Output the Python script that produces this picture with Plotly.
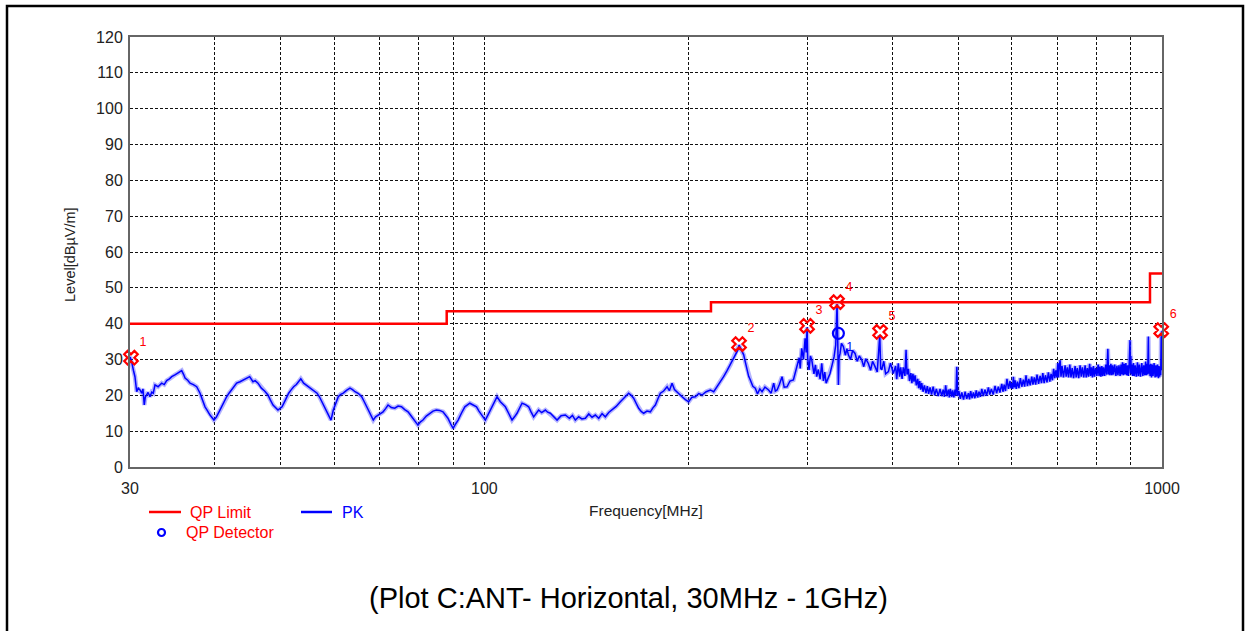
import plotly.graph_objects as go

# ---------------- data ----------------
limit_freq = [30, 88, 216, 960, 1000]
limit_level = [40, 43.5, 46, 54, 54]

pk_points = [
    (30.0, 30.8), (30.17, 29.4), (30.35, 27.0), (30.51, 25.2), (30.69, 21.0), (30.85, 22.0),
    (31.04, 21.5), (31.22, 20.6), (31.35, 21.8), (31.49, 17.3), (31.6, 19.5), (31.75, 20.4),
    (31.9, 20.8), (32.11, 19.6), (32.3, 20.9), (32.47, 20.6), (32.66, 22.9), (33.0, 22.4),
    (33.41, 23.4), (33.7, 23.0), (33.98, 24.1), (34.3, 24.6), (34.57, 25.2), (35.0, 25.8),
    (35.3, 26.2), (35.56, 26.6), (35.76, 26.9), (36.0, 25.8), (36.17, 24.8), (36.5, 24.2),
    (36.79, 23.4), (37.2, 23.0), (37.63, 22.4), (38.06, 20.6), (38.4, 18.5), (38.71, 16.8),
    (39.0, 15.8), (39.37, 14.5), (39.9, 13.1), (40.23, 13.9), (40.6, 15.4), (40.92, 16.8),
    (41.3, 18.0), (41.66, 19.6), (42.0, 20.6), (42.38, 21.5), (42.7, 22.4), (43.10, 23.4),
    (43.6, 23.8), (44.08, 24.3), (44.6, 24.6), (45.05, 25.2), (45.56, 23.8), (45.9, 24.1),
    (46.34, 23.4), (46.88, 22.0), (47.4, 21.2), (47.94, 20.1), (48.3, 18.8), (48.77, 17.3),
    (49.6, 15.9), (50.29, 16.8), (50.9, 18.8), (51.43, 20.6), (51.9, 21.6), (52.31, 22.4),
    (52.8, 23.0), (53.21, 23.8), (53.6, 24.6), (54.12, 23.4), (54.8, 22.6), (55.37, 22.0),
    (56.0, 21.4), (56.64, 20.6), (57.1, 19.6), (57.61, 18.2), (58.1, 16.8), (58.6, 15.4),
    (59.0, 14.0), (59.39, 13.1), (59.86, 15.9), (60.88, 19.6), (61.4, 20.3), (61.93, 20.6),
    (62.6, 21.4), (63.35, 22.0), (63.9, 21.6), (64.44, 21.0), (65.2, 20.5), (65.92, 19.6),
    (66.5, 18.2), (67.05, 16.8), (67.8, 15.0), (68.57, 13.1), (69.1, 14.0), (69.69, 14.5),
    (70.3, 15.0), (70.89, 15.4), (71.5, 16.3), (72.10, 17.3), (72.9, 16.6), (73.76, 16.4),
    (74.6, 17.0), (75.46, 16.8), (76.3, 16.0), (77.17, 15.4), (77.8, 14.5), (78.49, 13.6),
    (79.81, 11.7), (80.5, 12.6), (81.18, 13.1), (82.1, 14.2), (83.05, 15.0), (84.0, 15.6),
    (84.96, 15.9), (85.9, 15.8), (86.89, 15.4), (87.6, 14.6), (88.37, 13.6), (89.2, 12.0),
    (89.94, 10.8), (90.7, 12.0), (91.48, 13.1), (92.5, 15.0), (93.59, 16.8), (95.19, 17.8),
    (96.3, 17.4), (97.38, 16.8), (98.2, 15.6), (99.05, 14.5), (100.34, 13.1), (101.2, 14.5),
    (102.06, 15.9), (103.2, 17.8), (104.41, 19.6), (105.59, 18.2), (107.40, 16.8), (108.6, 15.0),
    (109.87, 13.1), (110.8, 14.0), (111.75, 15.0), (112.7, 16.4), (113.67, 17.8), (115.0, 17.4),
    (116.25, 16.8), (117.2, 15.4), (118.24, 14.0), (120.26, 15.9), (121.5, 15.2), (123.04, 15.9),
    (124.0, 15.3), (125.14, 15.0), (126.5, 14.0), (128.03, 13.1), (129.8, 14.3), (131.69, 14.5),
    (133.5, 13.6), (134.9, 14.4), (136.24, 13.1), (137.8, 14.0), (139.3, 13.4), (140.95, 13.6),
    (142.6, 14.8), (144.2, 13.9), (145.82, 14.5), (147.5, 13.6), (149.2, 14.9), (150.86, 14.0),
    (152.6, 15.2), (154.33, 15.9), (156.5, 16.9), (158.75, 18.2), (161.0, 19.4), (163.29, 20.6),
    (164.7, 20.0), (166.09, 19.2), (167.5, 17.8), (168.94, 16.4), (170.4, 15.5), (171.83, 15.0),
    (173.8, 15.6), (175.79, 15.4), (177.3, 16.5), (178.80, 17.3), (180.3, 19.0), (181.87, 20.6),
    (183.9, 21.2), (186.06, 22.4), (187.5, 21.3), (189.25, 23.4), (190.8, 21.6), (192.49, 21.0),
    (194.1, 20.2), (195.79, 19.6), (198.0, 18.8), (200.2, 18.2), (202.5, 19.5), (204.82, 19.6),
    (207.2, 20.5), (209.53, 20.1), (212.5, 21.0), (215.53, 21.5), (218.0, 21.0), (220.49, 22.4),
    (223.0, 23.5), (225.49, 25.2), (228.0, 26.8), (230.68, 28.5), (232.6, 30.0), (234.64, 31.3),
    (236.6, 32.6), (237.6, 34.0), (239.5, 32.5), (241.4, 31.3), (242.8, 29.2), (244.2, 27.1),
    (245.5, 25.3), (246.9, 24.3), (249.0, 22.5), (251.1, 22.0), (253.0, 20.4), (255.0, 21.8),
    (256.9, 21.0), (259.5, 22.3), (262.7, 21.5), (265.0, 20.6), (267.3, 23.4), (268.8, 21.2),
    (270.4, 21.5), (272.5, 23.0), (275.0, 25.2), (277.0, 22.3), (279.7, 22.4), (282.5, 24.0),
    (285.8, 24.3), (287.8, 26.5), (289.7, 28.9), (291.5, 30.5), (292.5, 27.5), (294.0, 33.1),
    (295.7, 30.0), (297.4, 35.9), (298.5, 32.0), (299.4, 39.0), (300.0, 30.5), (301.4, 27.1),
    (302.8, 31.0), (304.2, 29.9), (306.5, 26.0), (308.0, 28.5), (309.4, 25.2), (311.0, 27.2),
    (313.0, 24.5), (314.7, 28.9), (316.5, 24.0), (318.0, 26.5), (319.4, 23.4), (321.5, 25.0),
    (323.7, 26.1), (326.0, 28.5), (328.2, 30.8), (330.0, 34.0), (331.5, 45.5), (332.5, 32.0),
    (333.0, 22.9), (333.8, 30.5), (334.9, 31.7), (336.5, 34.5), (338.7, 33.6), (341.0, 31.2),
    (342.8, 33.0), (344.5, 31.3), (347.0, 30.0), (349.5, 32.5), (352.4, 31.7), (355.0, 29.5),
    (357.5, 31.0), (360.5, 29.9), (363.0, 28.0), (365.5, 30.2), (368.7, 28.9), (371.5, 27.0),
    (374.0, 29.5), (377.2, 28.0), (380.0, 26.5), (383.3, 36.8), (384.5, 27.5), (385.9, 27.1),
    (388.5, 29.5), (391.0, 26.0), (394.7, 26.6), (397.5, 29.0),
    (401.4, 26.1), (404.5, 28.2), (406.0, 24.5), (408.2, 28.9), (410.0, 25.2), (411.5, 27.8),
    (413.5, 24.6), (415.2, 27.8), (417.5, 25.4), (419.1, 32.7), (420.5, 25.8), (422.4, 27.4),
    (424.0, 24.0), (426.0, 26.2), (427.5, 23.4), (429.0, 26.0), (430.5, 23.8), (432.1, 25.6),
    (434.0, 22.8), (436.0, 24.6), (437.5, 22.0), (439.0, 24.0), (440.5, 21.6), (442.0, 23.4),
    (444.0, 21.0), (446.0, 22.8), (448.5, 20.6), (450.5, 22.6), (452.5, 20.4), (454.7, 22.2),
    (457.0, 20.2), (459.5, 22.4), (462.0, 20.0), (464.5, 21.8), (467.5, 19.8), (470.4, 21.8),
    (473.0, 19.8), (475.5, 21.6), (477.5, 19.6), (479.5, 22.8), (481.5, 19.8), (483.8, 21.6),
    (485.5, 19.4), (487.0, 21.8), (489.6, 19.6), (491.0, 21.4), (493.0, 19.4), (495.0, 21.6),
    (496.5, 20.0), (498.0, 28.0), (499.5, 19.8), (501.4, 21.2), (504.0, 19.0), (506.5, 20.8),
    (509.5, 18.8), (512.2, 21.0), (515.0, 19.0), (518.0, 20.6), (520.0, 18.9), (522.0, 21.2),
    (524.5, 19.2), (526.9, 20.8), (529.5, 19.2), (532.0, 21.4), (534.5, 19.4), (537.0, 21.0),
    (539.5, 19.6), (542.1, 21.8), (545.0, 19.8), (548.0, 21.6), (551.0, 19.9), (554.4, 22.2),
    (557.0, 20.2), (560.0, 21.8), (563.5, 20.2), (567.1, 22.6), (570.0, 20.6), (573.5, 22.4),
    (576.5, 20.8), (580.2, 23.2), (582.5, 21.0), (585.0, 23.0), (587.5, 21.2), (590.5, 24.6),
    (593.5, 21.8), (596.7, 24.0), (598.5, 22.0), (600.0, 23.4), (602.0, 21.8), (603.5, 25.2),
    (605.5, 22.2), (607.0, 24.2), (609.5, 21.8), (612.0, 23.8), (615.0, 22.0), (618.0, 24.8),
    (621.0, 22.4), (624.3, 24.4), (627.0, 22.4), (630.0, 25.6), (633.0, 22.6), (636.0, 24.6),
    (639.0, 22.8), (642.4, 25.2), (645.0, 23.0), (648.0, 25.0), (651.0, 23.0), (654.0, 25.8),
    (657.5, 23.2), (660.9, 25.4), (664.0, 23.4), (667.0, 26.2), (670.0, 23.4), (673.0, 25.6),
    (676.5, 23.6), (679.8, 26.4), (683.0, 23.8), (686.0, 26.0), (689.0, 24.2), (692.0, 27.4),
    (694.5, 24.8), (697.0, 27.0), (699.5, 25.0), (702.0, 29.0), (703.5, 25.0), (705.0, 27.8),
    (707.4, 29.8), (709.5, 25.2), (712.0, 28.2), (715.5, 25.0), (719.5, 28.4), (722.0, 25.2),
    (725.0, 27.8), (728.0, 25.0), (731.0, 28.6), (734.0, 25.0), (737.0, 27.6), (740.5, 24.8),
    (744.4, 28.2), (747.0, 25.0), (750.0, 27.6), (753.5, 24.8), (757.0, 28.4), (760.0, 25.2),
    (763.0, 27.8), (766.5, 25.0), (770.1, 28.4), (773.0, 25.0), (776.0, 27.6), (779.0, 25.2),
    (782.0, 28.8), (784.5, 25.4), (787.0, 27.8), (789.5, 25.0), (792.2, 28.2), (795.0, 25.2),
    (798.0, 27.6), (801.5, 25.4), (805.0, 28.6), (807.5, 25.4), (810.0, 28.0), (812.5, 25.2),
    (815.1, 28.2), (817.5, 25.4), (820.0, 27.8), (823.0, 25.4), (826.0, 28.6), (829.0, 25.8),
    (831.9, 33.0), (834.0, 25.8), (836.0, 28.4), (838.0, 25.6), (840.5, 28.8), (843.3, 25.6),
    (845.5, 28.4), (848.0, 25.8), (851.5, 28.6), (855.0, 25.4), (858.0, 28.2), (861.0, 25.6),
    (864.0, 28.4), (867.3, 25.4), (870.0, 28.6), (872.0, 25.8), (874.5, 29.2), (877.0, 25.6),
    (879.5, 28.8), (882.0, 25.8), (884.5, 29.0), (887.2, 25.6), (890.0, 28.4), (892.0, 25.4),
    (894.5, 28.8), (897.0, 35.4), (898.5, 26.2), (899.5, 31.0), (901.0, 25.8), (903.0, 28.6),
    (905.0, 25.4), (907.4, 29.0), (910.0, 25.4), (913.0, 28.4), (916.5, 25.2), (920.0, 29.2),
    (923.0, 25.4), (926.0, 28.6), (929.5, 25.2), (933.6, 29.0), (937.0, 25.4), (940.0, 28.4),
    (943.0, 25.6), (946.0, 29.4), (948.0, 25.6), (950.0, 28.8), (952.5, 25.8), (954.8, 36.4),
    (956.0, 26.0), (957.5, 28.6), (960.3, 25.4), (962.5, 28.8), (965.0, 25.0), (967.5, 28.6),
    (970.0, 25.4), (973.5, 29.0), (976.8, 25.0), (979.5, 28.4), (982.0, 25.2), (985.0, 28.6),
    (988.0, 24.8), (990.0, 28.2), (992.0, 25.2), (994.0, 28.0), (995.5, 25.6), (997.3, 36.5),
    (998.5, 27.0), (1000.0, 38.0),
]
pk_freq = [p[0] for p in pk_points]
pk_level = [p[1] for p in pk_points]

marker_freq = [30.1, 237.6, 299.4, 331.5, 383.7, 997.3]
marker_level = [30.5, 34.3, 39.4, 46.0, 37.7, 38.2]
marker_labels = ["1", "2", "3", "4", "5", "6"]

qp_freq = [333.0]
qp_level = [37.3]
qp_labels = ["1"]

x_tick_vals = [30, 40, 50, 60, 70, 80, 90, 100, 200, 300, 400, 500, 600, 700, 800, 900, 1000]
x_tick_text = ["30", "", "", "", "", "", "", "100", "", "", "", "", "", "", "", "", "1000"]
y_tick_vals = list(range(0, 121, 10))

FONT = "Liberation Sans, Arial, sans-serif"
RED = "#ff0000"
BLUE = "#0000ff"

fig = go.Figure()

# soft halo under the PK trace (same data) to mimic the dense sweep band
fig.add_trace(go.Scatter(
    x=pk_freq, y=pk_level, mode="lines", hoverinfo="skip",
    line=dict(color="rgba(40,40,255,0.35)", width=4.5), showlegend=False,
))
fig.add_trace(go.Scatter(
    x=pk_freq, y=pk_level, mode="lines", name="PK",
    line=dict(color=BLUE, width=1.5), showlegend=False,
))
fig.add_trace(go.Scatter(
    x=limit_freq, y=limit_level, mode="lines", name="QP Limit",
    line=dict(color=RED, width=2.5, shape="hv"), showlegend=False,
))
fig.add_trace(go.Scatter(
    x=marker_freq, y=marker_level, mode="markers+text", text=marker_labels,
    textposition="top right", textfont=dict(color=RED, size=12.5, family=FONT),
    marker=dict(symbol="x-open", size=12, color=RED, line=dict(color=RED, width=2.2)),
    cliponaxis=False, showlegend=False,
))
fig.add_trace(go.Scatter(
    x=qp_freq, y=qp_level, mode="markers+text", text=qp_labels, name="QP Detector",
    textposition="bottom right", textfont=dict(color=BLUE, size=12.5, family=FONT),
    marker=dict(symbol="circle-open", size=11, color=BLUE, line=dict(color=BLUE, width=2.2)),
    cliponaxis=False, showlegend=False,
))

L, R, T, B = 130, 1162, 37, 467
W, H = 1250, 631
PW, PH = R - L, B - T


def px(x):
    return (x - L) / PW


def py(y):
    return (B - y) / PH


shapes = [
    # outer frame
    dict(type="rect", xref="paper", yref="paper", x0=px(7), x1=px(1243), y0=py(660), y1=py(6),
         line=dict(color="black", width=2.5), fillcolor="rgba(0,0,0,0)", layer="below"),
    # legend lines
    dict(type="line", xref="paper", yref="paper", x0=px(149), x1=px(181), y0=py(512), y1=py(512),
         line=dict(color=RED, width=2.5)),
    dict(type="line", xref="paper", yref="paper", x0=px(301), x1=px(332), y0=py(512), y1=py(512),
         line=dict(color=BLUE, width=2.5)),
    dict(type="circle", xref="paper", yref="paper", xsizemode="pixel", ysizemode="pixel",
         xanchor=px(161.5), yanchor=py(532.5), x0=-3.5, x1=3.5, y0=-3.5, y1=3.5,
         line=dict(color=BLUE, width=2.2)),
]

annotations = [
    dict(text="QP Limit", x=px(188), y=py(512), xref="paper", yref="paper", xanchor="left",
         yanchor="middle", showarrow=False, font=dict(color=RED, size=16, family=FONT)),
    dict(text="PK", x=px(340), y=py(512), xref="paper", yref="paper", xanchor="left",
         yanchor="middle", showarrow=False, font=dict(color=BLUE, size=16, family=FONT)),
    dict(text="QP Detector", x=px(184), y=py(532), xref="paper", yref="paper", xanchor="left",
         yanchor="middle", showarrow=False, font=dict(color=RED, size=16, family=FONT)),
    dict(text="Frequency[MHz]", x=px(646), y=py(511), xref="paper", yref="paper",
         xanchor="center", yanchor="middle", showarrow=False,
         font=dict(color="#222", size=15.5, family=FONT)),
    dict(text="Level[dBµV/m]", x=px(70), y=py(255), xref="paper", yref="paper",
         xanchor="center", yanchor="middle", textangle=-90, showarrow=False,
         font=dict(color="#222", size=14.5, family=FONT)),
    dict(text="(Plot C:ANT- Horizontal, 30MHz - 1GHz)", x=px(628), y=py(598), xref="paper",
         yref="paper", xanchor="center", yanchor="middle", showarrow=False,
         font=dict(color="black", size=29, family=FONT)),
]

fig.update_layout(
    width=W, height=H,
    margin=dict(l=L, r=W - R, t=T, b=H - B, pad=0),
    paper_bgcolor="white", plot_bgcolor="white",
    showlegend=False,
    shapes=shapes, annotations=annotations,
    font=dict(family=FONT, color="#222"),
)
fig.update_xaxes(
    type="log", range=[1.4771213, 3.0], tickvals=x_tick_vals, ticktext=x_tick_text,
    showgrid=True, gridcolor="#111", gridwidth=1, griddash="3px,2px",
    showline=True, linecolor="#666", linewidth=2, mirror=True, ticks="",
    tickfont=dict(size=16, family=FONT, color="#222"), ticklabelstandoff=6, zeroline=False,
)
fig.update_yaxes(
    range=[0, 120], tickvals=y_tick_vals,
    showgrid=True, gridcolor="#111", gridwidth=1, griddash="3px,2px",
    showline=True, linecolor="#666", linewidth=2, mirror=True, ticks="",
    tickfont=dict(size=16, family=FONT, color="#222"), ticklabelstandoff=2, zeroline=False,
)

fig.write_html(
    "out.html",
    config={"displayModeBar": False},
    post_script="document.body.style.margin='0px';document.body.style.overflow='hidden';",
)
